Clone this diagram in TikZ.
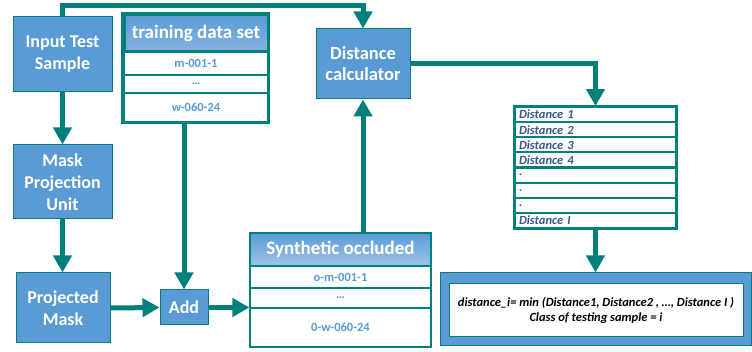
\documentclass[tikz,border=0pt]{standalone}
\usepackage{fontspec}
\setmainfont{Carlito}
\usetikzlibrary{arrows.meta,calc}
\definecolor{teal1}{RGB}{0,128,122}
\definecolor{blu}{RGB}{91,155,213}
\definecolor{lblu}{RGB}{160,197,232}
\definecolor{dtxt}{RGB}{56,88,140}
\begin{document}
\begin{tikzpicture}[x=1pt,y=-1pt,
  blubox/.style={draw=teal1, line width=1pt, fill=blu, text=white, font=\fontsize{18}{22}\selectfont\bfseries, align=center, inner sep=0pt},
  cell/.style={draw=teal1, line width=1.2pt, fill=white, text=blu, font=\fontsize{12.5}{14}\selectfont\bfseries, inner sep=0pt},
  head/.style={draw=teal1, line width=1.2pt, top color=blu, bottom color=lblu, text=white, font=\fontsize{19}{21}\selectfont\bfseries, inner sep=0pt},
  dcell/.style={draw=teal1, line width=2pt, fill=white, text=dtxt, font=\fontsize{12.5}{13}\selectfont\bfseries\itshape, inner sep=0pt, minimum width=161pt, minimum height=15.1pt, text width=153pt, align=left},
  arr/.style={draw=teal1, line width=5pt, -{Triangle[width=18pt,length=17pt]}}
]
\useasboundingbox[fill=white] (0,0) rectangle (752,352);

% blue boxes
\node[blubox, minimum width=99pt, minimum height=75pt] (input) at (62.5,54.5) {Input Test\\Sample};
\node[blubox, minimum width=99pt, minimum height=74pt] (mask) at (62.5,182) {Mask\\Projection\\Unit};
\node[blubox, minimum width=94pt, minimum height=70pt] (proj) at (63,308) {Projected\\Mask};
\node[blubox, minimum width=48pt, minimum height=35pt] (add) at (184,307.5) {Add};
\node[blubox, minimum width=94pt, minimum height=70pt, font=\fontsize{18.5}{21}\selectfont\bfseries] (calc) at (363,64) {Distance\\calculator};

% training data set table
\node[head, line width=3pt, top color=blu, bottom color=blu!75!white, minimum width=144pt, minimum height=37pt] (trh) at (196,33.5) {training data set};
\node[cell, minimum width=144pt, minimum height=23pt] (tr1) at (196,63.5) {m-001-1};
\node[cell, minimum width=144pt, minimum height=18pt] (tr2) at (196,84) {…};
\node[cell, minimum width=144pt, minimum height=29pt] (tr3) at (196,107.5) {w-060-24};
\draw[teal1, line width=3pt] (trh.north west) rectangle (tr3.south east);

% synthetic occluded table
\node[head, minimum width=181pt, minimum height=33pt] (syh) at (340.5,249.5) {Synthetic occluded};
\node[cell, minimum width=181pt, minimum height=22pt] (sy1) at (340.5,277) {o-m-001-1};
\node[cell, minimum width=181pt, minimum height=20pt] (sy2) at (340.5,298) {…};
\node[cell, minimum width=181pt, minimum height=39pt] (sy3) at (340.5,327.5) {0-w-060-24};

% distance list
\foreach \i/\t in {1/Distance 1,2/Distance 2,3/Distance 3,4/Distance 4,5/.,6/.,7/.,8/Distance I}{
  \node[dcell] (d\i) at (595.5,{107+15.125*(\i-0.5)}) {\t};
}
\draw[teal1, line width=2.5pt] (d1.north west) rectangle (d8.south east);

% result box
\node[draw=teal1, line width=1pt, fill=blu, minimum width=311pt, minimum height=73pt, inner sep=0pt] (res) at (595.5,309.5) {};
\node[draw=teal1, line width=1pt, fill=white, minimum width=294pt, minimum height=53pt, align=center, inner sep=0pt,
  font=\fontsize{12.5}{15}\selectfont\bfseries\itshape] (resin) at (596,310.5)
  {distance\_i= min (Distance1, Distance2 , …, Distance I )\\Class of testing sample = i};

% connectors
\draw[arr] (input.north) -- ++(0,-11) -| (calc.north);
\draw[arr] (input.south) -- (mask.north);
\draw[arr] (mask.south) -- (mask.south |- proj.north);
\draw[arr] (proj.east) -- (add.west);
\draw[arr] (add.north |- tr3.south) -- (add.north);
\draw[arr] (add.east) -- (add.east -| sy2.west);
\draw[arr] (calc.south |- syh.north) -- (calc.south);
\draw[arr] (calc.east) -| (d1.north);
\draw[arr] (d8.south) -- (res.north);
\end{tikzpicture}
\end{document}
